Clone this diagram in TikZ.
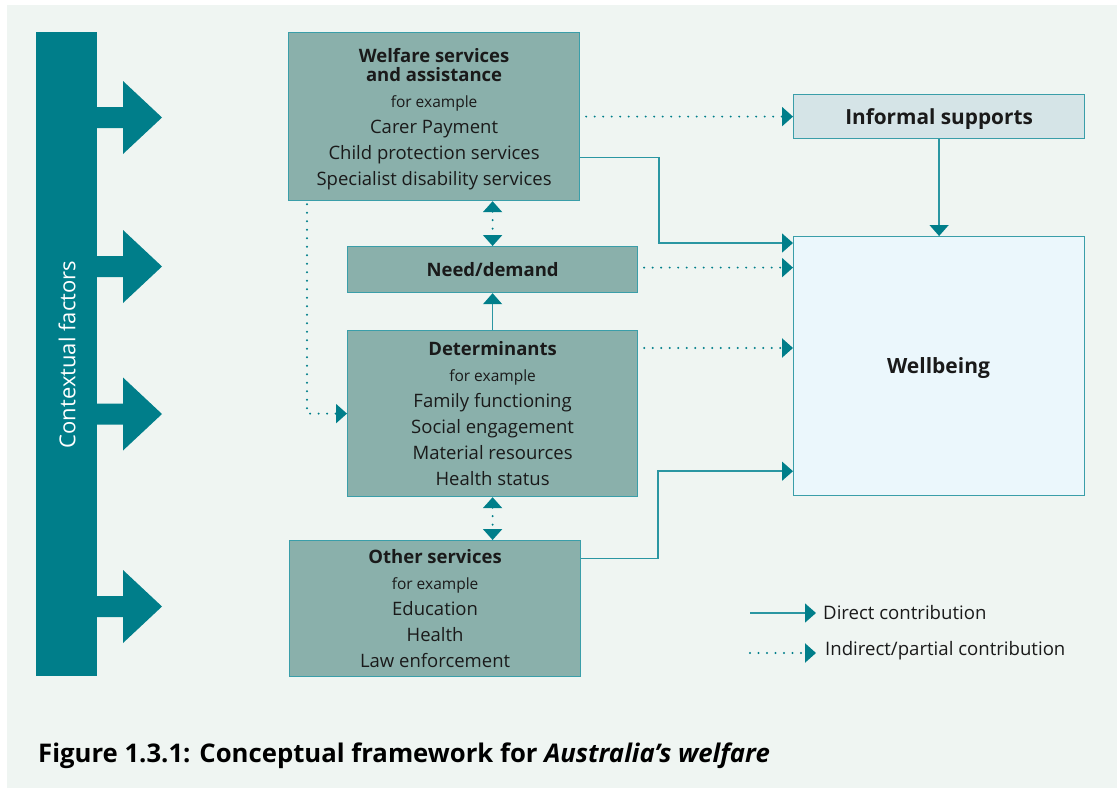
\documentclass[tikz,border=0pt]{standalone}
\usepackage{fontspec}
\setmainfont{Open Sans}
\usetikzlibrary{arrows.meta,calc}
\definecolor{bg}{HTML}{EFF5F2}
\definecolor{teal}{HTML}{007E8A}
\definecolor{conn}{HTML}{2A96A2}
\definecolor{boxline}{HTML}{3A9EA9}
\definecolor{boxfill}{HTML}{8AB0AB}
\definecolor{infill}{HTML}{D5E4E7}
\definecolor{wbfill}{HTML}{EBF7FC}
\definecolor{txt}{HTML}{1A1A1A}
\begin{document}
\begin{tikzpicture}[x=1pt,y=-1pt,
  box/.style={draw=boxline,line width=1.2pt,fill=boxfill,inner sep=0pt},
  boxtext/.style={inner sep=0pt,align=center,text=txt,font=\fontsize{18.5}{26}\selectfont},
  sline/.style={draw=conn,line width=1.5pt,-{Triangle[length=11pt,width=19pt,color=teal]}},
  dline/.style={draw=teal,line width=2.2pt,line cap=round,dash pattern=on 0pt off 8.5pt,
    -{Triangle[length=11pt,width=19pt,color=teal]}},
  ddline/.style={draw=teal,line width=2.2pt,line cap=round,dash pattern=on 0pt off 8.5pt,
    {Triangle[length=11pt,width=19pt,color=teal]}-{Triangle[length=11pt,width=19pt,color=teal]}},
  legtext/.style={anchor=west,inner sep=0pt,text=txt,font=\fontsize{18.6}{20}\selectfont}
]
\useasboundingbox (0,0) rectangle (1117,788);
\fill[white] (0,0) rectangle (1117,788);
\fill[bg] (7,5) rectangle (1117,788);

% contextual factors bar with block arrows
\fill[teal] (36,32) rectangle (97,676);
\foreach \cy in {117.5,266.5,414,606.5}{
  \fill[teal] (96,\cy-10.5) -- (123,\cy-10.5) -- (123,\cy-36.5) -- (162,\cy)
     -- (123,\cy+36.5) -- (123,\cy+10.5) -- (96,\cy+10.5) -- cycle;
}
\node[rotate=90,text=white,font=\fontsize{22}{24}\selectfont,inner sep=0pt] (ctx) at (67,354.5) {Contextual factors};

% boxes
\node[box,anchor=north west,minimum width=291pt,minimum height=168pt] (welfare) at (288,32) {};
\node[boxtext] (welfaretext) at ([yshift=-3pt]welfare.center)
 {{\bfseries Welfare services}\\[-7pt]{\bfseries and assistance}\\{\fontsize{15.5}{26}\selectfont for example}\\Carer Payment\\Child protection services\\Specialist disability services};
\node[box,anchor=north west,minimum width=290pt,minimum height=46pt] (need) at (347,246) {};
\node[boxtext] (needtext) at (need.center) {\bfseries Need/demand};
\node[box,anchor=north west,minimum width=290pt,minimum height=166pt] (det) at (347,330) {};
\node[boxtext] (dettext) at (det.center)
 {{\bfseries Determinants}\\{\fontsize{15.5}{26}\selectfont for example}\\Family functioning\\Social engagement\\Material resources\\Health status};
\node[box,anchor=north west,minimum width=291pt,minimum height=136pt] (other) at (289,540) {};
\node[boxtext] (othertext) at (other.center)
 {{\bfseries Other services}\\{\fontsize{15.5}{26}\selectfont for example}\\Education\\Health\\Law enforcement};
\node[box,fill=infill,anchor=north west,minimum width=291pt,minimum height=44pt] (informal) at (793,94) {};
\node[boxtext,font=\fontsize{20.8}{24}\selectfont\bfseries] (informaltext) at ([yshift=-2.5pt]informal.center) {Informal supports};
\node[box,fill=wbfill,anchor=north west,minimum width=291pt,minimum height=259pt] (wellbeing) at (793,236) {};
\node[boxtext,font=\fontsize{21}{24}\selectfont\bfseries] (wbtext) at (938.5,368) {Wellbeing};

% connectors
\draw[dline] ([xshift=6pt]welfare.east) -- (informal.west);
\draw[sline] ([yshift=-41pt]welfare.east) -- ++(79,0) |- ([yshift=-7pt]wellbeing.north west);
\draw[dline] ([xshift=6pt,yshift=2pt]need.east) -- ([yshift=2pt]need.east -| wellbeing.west);
\draw[dline] ([xshift=6pt,yshift=-18pt]det.north east) -- ([yshift=-18pt]det.north east -| wellbeing.west);
\draw[sline] (informal.south) -- (wellbeing.north);
\draw[sline] ([yshift=50pt]other.east) -- ++(77,0) |- ([yshift=25pt]wellbeing.south west);
\draw[sline] (det.north) -- (need.south);
\draw[ddline] (need.north |- welfare.south) -- (need.north);
\draw[ddline] (det.south) -- (det.south |- other.north);
\draw[dline] ([xshift=19pt,yshift=-3pt]welfare.south west) |- (det.west);

% legend
\coordinate (lg1) at (750,613);
\coordinate (lg2) at (750,653);
\draw[sline] (lg1) -- ++(66,0) coordinate (lg1e);
\node[legtext] (lt1) at ([xshift=7pt]lg1e) {Direct contribution};
\draw[dline] (lg2) -- ++(66,0) coordinate (lg2e);
\node[legtext] (lt2) at ([xshift=9pt,yshift=2pt]lg2e) {Indirect/partial contribution};

% caption
\node[anchor=base west,inner sep=0pt,text=black,font=\fontsize{25.7}{28}\selectfont\bfseries] (cap) at (38,762)
 {Figure 1.3.1: Conceptual framework for \textit{Australia’s welfare}};
\end{tikzpicture}
\end{document}
